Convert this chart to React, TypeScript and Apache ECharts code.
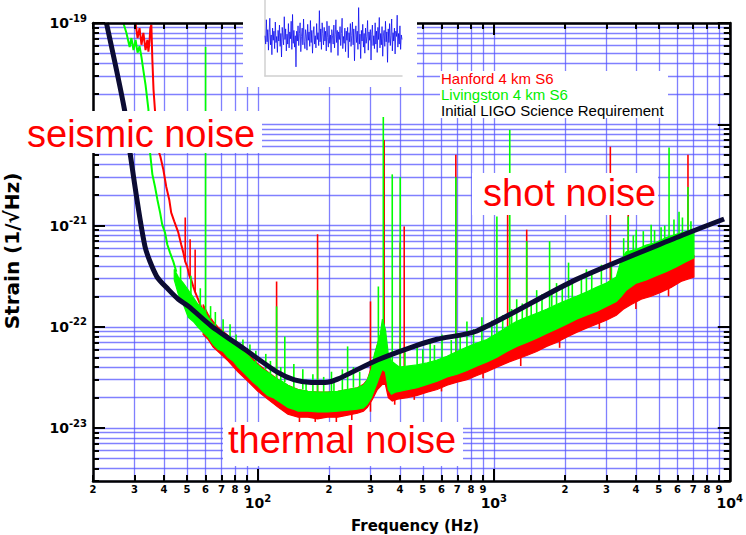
import React, { useEffect, useRef } from 'react';
import * as echarts from 'echarts';

// ---------- axes ----------
const xTickValues = [20, 30, 40, 50, 60, 70, 80, 90, 100, 200, 300, 400, 500, 600, 700, 800, 900, 1000, 2000, 3000, 4000, 5000, 6000, 7000, 8000, 9000, 10000];
const xDecadeValues = [100, 1000, 10000];
const xDigitValues = xTickValues.filter((v) => !xDecadeValues.includes(v));
const yMinorExponents = [-24, -23, -22, -21, -20];
const yDigits = [1, 2, 3, 4, 5, 6, 7, 8, 9];
const yDecadeValues = [1e-23, 1e-22, 1e-21, 1e-20, 1e-19];
// the 1e-20 label sits behind the "seismic noise" box in the reference
const yLabelValues = [1e-23, 1e-22, 1e-21, 1e-19];
const yTickValues: number[] = [];
yMinorExponents.forEach((e) => yDigits.forEach((d) => { const v = Number(`${d}e${e}`); if (v >= 3e-24) yTickValues.push(v); }));
yTickValues.push(1e-19);

// ---------- Initial LIGO Science Requirement ----------
const srdF = [22.8, 27.2, 28.7, 33.2, 37.2, 41.7, 46.0, 50.7, 63.4, 87.9, 121.4, 142.8, 167.9, 197.4, 217.6, 320.8, 443.6, 574, 847.6, 2240, 5916, 9462];
const srdV = [1e-19, 1.39e-20, 5.24e-21, 6.25e-22, 3.16e-22, 2.34e-22, 1.87e-22, 1.6e-22, 1.02e-22, 6.0e-23, 3.54e-23, 2.99e-23, 2.82e-23, 2.84e-23, 3.04e-23, 4.7e-23, 6.24e-23, 7.53e-23, 9.1e-23, 2.94e-22, 7.57e-22, 1.16e-21];

// ---------- Livingston 4 km S6 ----------
const livWallF = [26.9, 27.7, 28.6, 29.1, 29.7, 30.3, 30.9, 31.5, 32.1, 32.7, 33.4, 34.35, 34.8, 35.7, 36.65, 37.5, 38.5, 39.3, 40.4, 41.3, 42.4, 43.8, 45.1];
const livWallV = [1e-19, 8.0e-20, 5.8e-20, 7.1e-20, 5.4e-20, 6.8e-20, 5.1e-20, 5.9e-20, 4.6e-20, 3.4e-20, 2.45e-20, 1.4e-20, 5.6e-21, 3.2e-21, 2.4e-21, 1.8e-21, 1.34e-21, 1.02e-21, 8.5e-22, 6.5e-22, 5.4e-22, 4.4e-22, 3.5e-22];
const livF = [44.2, 46, 48.3, 50.7, 53.2, 55.8, 58.6, 61.5, 64.6, 67.8, 71.2, 74.7, 78.4, 82.3, 86.4, 90.7, 95.3, 100, 105, 110, 116, 122, 128, 134, 141, 148, 163, 179, 197, 218, 240, 264, 280, 291, 303, 312, 321, 330, 337, 347, 357, 368, 382, 397, 430, 473, 522, 575, 633, 698, 769, 848, 934, 1030, 1135, 1250, 1378, 1519, 1673, 1844, 2032, 2240, 2468, 2720, 2998, 3304, 3468, 3641, 4012, 4421, 4873, 5370, 5918, 6521, 7048];
const livHi = [3.7e-22, 3.1e-22, 2.7e-22, 2.3e-22, 1.95e-22, 1.66e-22, 1.49e-22, 1.24e-22, 1.06e-22, 9.5e-23, 8.4e-23, 7.9e-23, 7.2e-23, 6.4e-23, 5.7e-23, 5.2e-23, 4.6e-23, 4.2e-23, 3.8e-23, 3.56e-23, 3.25e-23, 3.0e-23, 2.84e-23, 2.65e-23, 2.5e-23, 2.4e-23, 2.3e-23, 2.26e-23, 2.26e-23, 2.3e-23, 2.4e-23, 2.5e-23, 2.65e-23, 3.0e-23, 3.8e-23, 5.4e-23, 6.7e-23, 8.4e-23, 1.19e-22, 9.5e-23, 5.4e-23, 4.6e-23, 4.3e-23, 4.0e-23, 4.1e-23, 4.2e-23, 4.4e-23, 4.7e-23, 5.1e-23, 5.7e-23, 6.3e-23, 6.9e-23, 7.5e-23, 8.6e-23, 9.9e-23, 1.13e-22, 1.24e-22, 1.36e-22, 1.49e-22, 1.66e-22, 1.83e-22, 2.0e-22, 2.2e-22, 2.45e-22, 2.7e-22, 3.1e-22, 4.6e-22, 5.5e-22, 5.8e-22, 6.4e-22, 6.8e-22, 7.6e-22, 8.2e-22, 8.7e-22, 9.1e-22];
const livLo = [2.9e-22, 2.1e-22, 1.66e-22, 1.24e-22, 1.13e-22, 9.9e-23, 8.8e-23, 7.9e-23, 6.7e-23, 6.0e-23, 5.7e-23, 5.0e-23, 4.6e-23, 4.0e-23, 3.6e-23, 3.2e-23, 2.84e-23, 2.6e-23, 2.3e-23, 2.1e-23, 2.0e-23, 1.85e-23, 1.72e-23, 1.6e-23, 1.54e-23, 1.47e-23, 1.47e-23, 1.44e-23, 1.44e-23, 1.47e-23, 1.5e-23, 1.54e-23, 1.58e-23, 1.72e-23, 2.0e-23, 2.4e-23, 2.84e-23, 3.4e-23, 3.8e-23, 3.6e-23, 2.4e-23, 2.16e-23, 2.26e-23, 2.3e-23, 2.4e-23, 2.5e-23, 2.7e-23, 2.9e-23, 3.2e-23, 3.4e-23, 3.7e-23, 4.1e-23, 4.5e-23, 5.0e-23, 5.7e-23, 6.4e-23, 7.0e-23, 7.7e-23, 8.6e-23, 9.5e-23, 1.06e-22, 1.19e-22, 1.30e-22, 1.42e-22, 1.59e-22, 1.78e-22, 2.0e-22, 2.3e-22, 2.7e-22, 2.9e-22, 3.2e-22, 3.5e-22, 3.9e-22, 4.4e-22, 4.8e-22];
// [frequency, floor, peak]
const livLines = [
  [60, 9.5e-23, 5.8e-20], [120, 3.0e-23, 1.59e-22], [130, 2.84e-23, 8.0e-23], [179, 2.26e-23, 2.3e-22], [240, 2.4e-23, 6.4e-23],
  [324, 4e-23, 2.5e-22], [340, 9.5e-23, 1.18e-20], [371, 4.3e-23, 3.2e-21], [401, 4.0e-23, 3.0e-21], [690, 5.7e-23, 3.0e-21],
  [1030, 8.6e-23, 1.23e-21], [1168, 1.0e-22, 8.8e-21], [1378, 1.24e-22, 7.0e-22], [1723, 1.5e-22, 7.0e-22], [2073, 1.9e-22, 4.3e-22],
  [3712, 5.5e-22, 1.23e-21], [5529, 7.6e-22, 5.9e-21], [6094, 8.2e-22, 1.37e-21], [6650, 8.7e-22, 2.4e-21],
  [71.2, 8.4e-23, 1.19e-22], [76.2, 7.9e-23, 1.06e-22], [80.8, 7.2e-23, 8.4e-23], [86.4, 5.7e-23, 7.5e-23], [92.5, 5.2e-23, 6.7e-23],
  [108, 3.8e-23, 5.4e-23], [142, 2.5e-23, 4.3e-23], [155, 2.4e-23, 3.8e-23], [171, 2.3e-23, 3.4e-23], [205, 2.26e-23, 3.6e-23],
  [228, 2.3e-23, 3.8e-23], [254, 2.5e-23, 4.0e-23], [473, 4.2e-23, 6.7e-23], [537, 4.4e-23, 7.5e-23], [603, 4.9e-23, 8.4e-23],
  [769, 6.3e-23, 1.13e-22], [890, 7.2e-23, 1.24e-22], [1250, 1.13e-22, 1.87e-22], [1519, 1.36e-22, 2.3e-22], [1844, 1.66e-22, 2.7e-22],
  [2468, 2.2e-22, 3.7e-22], [2856, 2.6e-22, 4.1e-22], [4012, 5.8e-22, 9.1e-22], [4642, 6.6e-22, 1.02e-21], [5115, 7.0e-22, 9.6e-22],
  [6846, 9.0e-22, 1.1e-21],
  [47, 2.9e-22, 4.0e-22], [52, 2.1e-22, 3.2e-22], [57, 1.6e-22, 2.4e-22], [63, 1.2e-22, 1.6e-22], [66, 1.0e-22, 1.4e-22],
  [98, 4.4e-23, 5.8e-23], [113, 3.4e-23, 4.6e-23], [125, 2.9e-23, 4.0e-23], [160, 2.3e-23, 3.0e-23], [190, 2.26e-23, 3.2e-23],
  [210, 2.3e-23, 3.1e-23], [270, 2.6e-23, 3.6e-23], [420, 4.1e-23, 5.6e-23], [500, 4.3e-23, 6.0e-23], [560, 4.6e-23, 6.6e-23],
  [660, 5.3e-23, 7.4e-23], [720, 5.9e-23, 8.2e-23], [820, 6.6e-23, 9.5e-23], [980, 8.0e-23, 1.15e-22], [1090, 9.3e-23, 1.3e-22],
  [1190, 1.05e-22, 1.5e-22], [1320, 1.18e-22, 1.7e-22], [1440, 1.3e-22, 1.8e-22], [1600, 1.42e-22, 2.1e-22], [1760, 1.58e-22, 2.3e-22],
  [1950, 1.75e-22, 2.5e-22], [2150, 1.9e-22, 2.8e-22], [2350, 2.1e-22, 3.0e-22], [2600, 2.35e-22, 3.4e-22], [3150, 2.9e-22, 4.2e-22],
  [3550, 5.0e-22, 7.5e-22], [3900, 5.6e-22, 8.0e-22], [4300, 6.2e-22, 8.8e-22], [4800, 6.7e-22, 9.0e-22], [5300, 7.4e-22, 1.0e-21],
  [5800, 8.0e-22, 1.15e-21], [6300, 8.5e-22, 1.2e-21],
];

// ---------- Hanford 4 km S6 ----------
const hanWallF = [30.3, 30.9, 31.5, 32.1, 32.7, 33.4, 34.0, 34.35, 34.7, 35.0, 35.35, 35.7, 36.1, 36.6, 37.1, 37.8, 38.6, 39.7, 40.9, 42.1, 42.9, 44.2, 46.0, 47.3, 48.3, 49.2, 50.2, 51.2, 52.2, 53.2, 54.2, 55.8, 58.0];
const hanWallV = [1e-19, 7.1e-20, 8.9e-20, 6.1e-20, 8.0e-20, 5.4e-20, 6.8e-20, 5.2e-20, 6.5e-20, 8.9e-20, 9.6e-20, 4.3e-20, 2.2e-20, 1.4e-20, 7.9e-21, 5.6e-21, 4.8e-21, 3.6e-21, 2.4e-21, 1.8e-21, 1.34e-21, 1.1e-21, 8.5e-22, 6.5e-22, 5.4e-22, 4.4e-22, 3.9e-22, 3.2e-22, 2.9e-22, 2.5e-22, 2.2e-22, 1.87e-22, 1.49e-22];
const hanF = [58.6, 61.5, 64.6, 67.8, 74.7, 82.3, 90.7, 100, 110, 122, 134, 148, 163, 179, 197, 218, 240, 264, 280, 291, 306, 321, 337, 347, 357, 371, 390, 430, 473, 522, 575, 633, 698, 769, 848, 934, 1030, 1135, 1250, 1378, 1519, 1673, 1844, 2032, 2240, 2468, 2720, 2998, 3304, 3536, 3822, 4212, 4642, 5115, 5637, 6212, 7048];
const hanHi = [1.66e-22, 1.33e-22, 1.13e-22, 9.9e-23, 8.2e-23, 6.7e-23, 5.4e-23, 4.3e-23, 3.6e-23, 3.0e-23, 2.65e-23, 2.4e-23, 2.3e-23, 2.26e-23, 2.26e-23, 2.3e-23, 2.4e-23, 2.5e-23, 2.7e-23, 3.0e-23, 4.3e-23, 6.7e-23, 9.5e-23, 7.5e-23, 4.8e-23, 3.8e-23, 3.6e-23, 3.6e-23, 3.7e-23, 3.9e-23, 4.2e-23, 4.5e-23, 4.9e-23, 5.2e-23, 5.7e-23, 6.3e-23, 6.9e-23, 7.5e-23, 8.4e-23, 9.2e-23, 1.0e-22, 1.13e-22, 1.24e-22, 1.36e-22, 1.49e-22, 1.59e-22, 1.74e-22, 1.9e-22, 2.1e-22, 2.5e-22, 2.6e-22, 2.9e-22, 3.2e-22, 3.5e-22, 3.9e-22, 4.4e-22, 5.0e-22];
const hanLo = [8.4e-23, 7.5e-23, 6.3e-23, 5.7e-23, 4.6e-23, 3.6e-23, 2.9e-23, 2.3e-23, 1.93e-23, 1.6e-23, 1.37e-23, 1.28e-23, 1.28e-23, 1.23e-23, 1.28e-23, 1.28e-23, 1.34e-23, 1.4e-23, 1.47e-23, 1.6e-23, 1.93e-23, 2.4e-23, 2.7e-23, 2.7e-23, 2.0e-23, 1.85e-23, 1.93e-23, 2.0e-23, 2.1e-23, 2.26e-23, 2.4e-23, 2.65e-23, 2.84e-23, 3.0e-23, 3.3e-23, 3.6e-23, 4.0e-23, 4.4e-23, 4.8e-23, 5.2e-23, 5.7e-23, 6.4e-23, 7.0e-23, 7.9e-23, 8.8e-23, 9.7e-23, 1.06e-22, 1.16e-22, 1.30e-22, 1.49e-22, 1.66e-22, 1.87e-22, 2.0e-22, 2.2e-22, 2.45e-22, 2.8e-22, 3.1e-22];
const hanLines = [
  [49.2, 4.4e-22, 1.2e-21], [51.6, 3.0e-22, 7.3e-22], [54.2, 2.2e-22, 5.8e-22], [120, 3.0e-23, 2.8e-22], [179, 2.26e-23, 8.2e-22],
  [300, 3.0e-23, 1.78e-22], [343, 7.5e-23, 7.0e-21], [401, 3.6e-23, 6.8e-22], [417, 3.6e-23, 9.8e-22], [690, 4.9e-23, 5.0e-21],
  [1144, 7.5e-23, 1.34e-21], [1378, 9.2e-23, 9.1e-22], [3117, 2.0e-22, 6.0e-21], [3712, 2.5e-22, 1.28e-21], [6650, 4.5e-22, 5.0e-21],
  [150, 1.6e-23, 1.1e-23], [175, 1.5e-23, 1.15e-23], [215, 1.5e-23, 1.12e-23], [250, 1.5e-23, 1.2e-23], [300, 2.0e-23, 1.45e-23],
  [380, 2.2e-23, 1.7e-23], [460, 2.4e-23, 1.9e-23], [600, 2.9e-23, 2.3e-23], [900, 3.9e-23, 3.1e-23], [1300, 5.0e-23, 4.1e-23],
  [1900, 7.6e-23, 6.2e-23], [2800, 1.15e-22, 9.5e-23], [4000, 1.8e-22, 1.5e-22], [5500, 2.4e-22, 2.0e-22],
];

// ---------- inset strain time series ----------
const insetValues = [
  0.3, -0.8, 2.4, -0.5, 1.1, -1.6, 0.7, 2.6, -0.9, 0.4, -2.2, 1.3, -0.3, 0.9, -1.4, 2.1, -0.6, 0.2, -1.9, 1.0,
  -0.4, 1.7, -1.1, 0.6, -2.5, 1.4, 0.1, -0.9, 2.8, -0.2, 1.2, -1.7, 0.5, -0.8, 1.9, -1.3, 0.8, -0.1, 2.2, -1.5,
  3.1, -0.7, 1.0, -1.2, 0.3, -3.8, 0.9, -0.4, 1.6, -1.0, 0.6, 2.0, -1.8, 0.2, 1.3, -0.9, 2.5, -0.5, -1.4, 1.1,
  0.4, -1.6, 1.8, -0.3, 0.8, -1.1, 2.3, -0.6, 1.0, -2.0, 0.5, 1.5, -0.8, 0.3, -1.3, 1.9, -0.2, 0.7, -1.0, 3.6,
  -0.5, 1.2, -1.5, 2.0, 0.6, -0.9, 1.4, -0.4, 0.9, -1.7, 2.2, 0.1, -1.2, 1.6, -0.7, 0.4, -1.9, 1.1, 0.3, -0.8,
  1.7, -1.3, 0.5, 2.4, -0.6, 1.0, -2.3, 0.8, -0.2, 1.5, -1.0, 0.6, 2.6, -1.4, 0.2, -0.7, 1.3, -1.8, 0.9, -0.3,
  1.4, -2.6, 0.7, -0.5, 1.9, -1.1, 0.3, 2.1, -0.9, 1.2, -3.0, 0.4, 1.6, -0.6, 0.9, -1.5, 4.0, -0.8, 0.5, -2.7,
  1.0, -0.4, 1.8, -1.2, 0.6, -2.0, 1.3, -0.7, 0.2, 2.3, -1.6, 0.8, -0.3, 1.1, -2.9, 0.5, 1.7, -1.0, 0.3, -1.4,
  2.0, -0.8, 0.9, -1.9, 1.4, -0.2, 2.7, -1.3, 0.6, -0.9, 1.5, -2.4, 0.4, 1.0, -1.1, 2.2, -0.5, 0.8, -3.2, 1.2,
  -0.6, 1.9, -1.0, 0.3, 2.5, -1.7, 0.7, -0.4, 1.3, -2.1, 0.9, 0.2, 3.0, -1.2, 0.6, -0.8, 1.6, -1.5, 0.4, -0.2,
];

const RED = '#ff0000';
const GREEN = '#00ff00';
const NAVY = '#0c0c33';
const GRID_BLUE = 'rgba(85,85,255,0.75)';
const TICK_FONT = 'DejaVu Sans';
const SANS = '"Liberation Sans", Arial, sans-serif';

const digitFmt = (v: number) => {
  const e = Math.floor(Math.log10(v) + 1e-9);
  return String(Math.round(v / Math.pow(10, e)));
};
const powFmt = (v: number) => `{a|10}{b|${Math.round(Math.log10(v))}}`;
const powRich = {
  a: { fontSize: 14, fontWeight: 'bold', fontFamily: TICK_FONT, color: '#000', lineHeight: 20 },
  b: { fontSize: 10, fontWeight: 'bold', fontFamily: TICK_FONT, color: '#000', verticalAlign: 'top', lineHeight: 10 },
};

function bandSeries(name: string, f: number[], hi: number[], lo: number[], color: string, z: number) {
  return {
    type: 'custom', name, xAxisIndex: 0, yAxisIndex: 0, z, clip: true, silent: true,
    data: f.map((x, i) => [x, hi[i], lo[i]]),
    encode: { x: 0, y: [1, 2] },
    renderItem: (params: any, api: any) => {
      if (params.dataIndex !== 0) return null;
      const pts = f.map((x, i) => api.coord([x, hi[i]]));
      for (let i = f.length - 1; i >= 0; i--) pts.push(api.coord([f[i], lo[i]]));
      return { type: 'polygon', shape: { points: pts }, style: { fill: color, stroke: color, lineWidth: 1.2 } };
    },
  };
}
function linesSeries(name: string, data: number[][], color: string, z: number) {
  return {
    type: 'custom', name, xAxisIndex: 0, yAxisIndex: 0, z, clip: true, silent: true,
    data, encode: { x: 0, y: [1, 2] },
    renderItem: (_p: any, api: any) => {
      const a = api.coord([api.value(0), api.value(1)]);
      const b = api.coord([api.value(0), api.value(2)]);
      return { type: 'line', shape: { x1: a[0], y1: a[1], x2: b[0], y2: b[1] }, style: { stroke: color, lineWidth: 1.6 } };
    },
  };
}
function wallSeries(name: string, f: number[], v: number[], color: string, z: number) {
  return {
    type: 'line', name, xAxisIndex: 0, yAxisIndex: 0, z, showSymbol: false, symbol: 'none', silent: true,
    data: f.map((x, i) => [x, v[i]]), lineStyle: { color, width: 2 },
  };
}

const frameX = (position: string, values: number[], length: number, line: boolean) => ({
  type: 'log', gridIndex: 0, position, min: 20, max: 10000, z: 10,
  axisLine: { show: line, onZero: false, lineStyle: { color: '#000', width: 2.5 } },
  axisTick: { show: true, inside: true, length, customValues: values, lineStyle: { color: '#000', width: 2 } },
  axisLabel: { show: false }, splitLine: { show: false }, minorTick: { show: false }, minorSplitLine: { show: false },
});
const frameY = (position: string, values: number[], length: number, line: boolean) => ({
  type: 'log', gridIndex: 0, position, min: 3e-24, max: 1e-19, z: 10,
  axisLine: { show: line, onZero: false, lineStyle: { color: '#000', width: 2.5 } },
  axisTick: { show: true, inside: true, length, customValues: values, lineStyle: { color: '#000', width: 2 } },
  axisLabel: { show: false }, splitLine: { show: false }, minorTick: { show: false }, minorSplitLine: { show: false },
});

function buildOption() {
  const xAxis: any[] = [
    { ...frameX('bottom', xTickValues, 0, false), z: 0, axisTick: { show: false, customValues: xTickValues }, splitLine: { show: true, lineStyle: { color: GRID_BLUE, width: 1.3 } } },
    { ...frameX('bottom', xTickValues, 6, true), axisLabel: { show: true, customValues: xDigitValues, margin: 3, formatter: digitFmt, color: '#000', fontFamily: TICK_FONT, fontWeight: 'bold', fontSize: 10, showMinLabel: true, showMaxLabel: true } },
    { ...frameX('bottom', xDecadeValues, 12, false), axisLabel: { show: true, customValues: xDecadeValues, margin: 12, formatter: powFmt, rich: powRich, showMinLabel: true, showMaxLabel: true } },
    frameX('top', xTickValues, 6, true),
    frameX('top', xDecadeValues, 12, false),
    { type: 'value', gridIndex: 1, min: 0, max: insetValues.length - 1, z: 60, axisLine: { show: true, onZero: false, lineStyle: { color: '#d0d0d0', width: 1.5 } }, axisTick: { show: false }, axisLabel: { show: false }, splitLine: { show: false } },
  ];
  const yAxis: any[] = [
    { ...frameY('left', yTickValues, 0, false), z: 0, axisTick: { show: false, customValues: yTickValues }, splitLine: { show: true, lineStyle: { color: GRID_BLUE, width: 1.3 } } },
    frameY('left', yTickValues, 6, true),
    { ...frameY('left', yDecadeValues, 12, false), axisLabel: { show: true, customValues: yLabelValues, margin: 6, formatter: powFmt, rich: powRich, showMinLabel: true, showMaxLabel: true } },
    frameY('right', yTickValues, 6, true),
    frameY('right', yDecadeValues, 12, false),
    { type: 'value', gridIndex: 1, min: -5, max: 5, z: 60, axisLine: { show: true, onZero: false, lineStyle: { color: '#d0d0d0', width: 1.5 } }, axisTick: { show: false }, axisLabel: { show: false }, splitLine: { show: false } },
  ];

  const box = (x: number, y: number, width: number, height: number) => ({ type: 'rect', z: 50, silent: true, shape: { x, y, width, height }, style: { fill: '#fff' } });
  const label = (text: string, x: number, y: number, fill: string, fontSize: number, fontWeight = 'normal', fontFamily = SANS, align = 'left', rotation = 0) => ({
    type: 'text', z: 51, silent: true, x, y, rotation,
    style: { text, fill, fontSize, fontWeight, fontFamily, align, verticalAlign: 'middle', textAlign: align, textVerticalAlign: 'middle' },
  });

  return {
    animation: false,
    backgroundColor: '#fff',
    grid: [
      { left: 93, right: 12, top: 23, bottom: 54, containLabel: false },
      { left: 265, top: 0, width: 137, height: 76, containLabel: false },
    ],
    xAxis, yAxis,
    series: [
      bandSeries('Hanford floor', hanF, hanHi, hanLo, RED, 3),
      linesSeries('Hanford lines', hanLines, RED, 3),
      wallSeries('Hanford 4 km S6', hanWallF, hanWallV, RED, 3),
      bandSeries('Livingston floor', livF, livHi, livLo, GREEN, 4),
      linesSeries('Livingston lines', livLines, GREEN, 4),
      wallSeries('Livingston 4 km S6', livWallF, livWallV, GREEN, 4),
      {
        type: 'line', name: 'Initial LIGO Science Requirement', xAxisIndex: 0, yAxisIndex: 0, z: 5, smooth: 0.25,
        showSymbol: false, symbol: 'none', silent: true,
        data: srdF.map((f, i) => [f, srdV[i]]), lineStyle: { color: NAVY, width: 5 },
      },
      {
        type: 'line', name: 'strain', xAxisIndex: 5, yAxisIndex: 5, z: 60, showSymbol: false, symbol: 'none', silent: true,
        data: insetValues.map((v, i) => [i, v]), lineStyle: { color: '#0000ee', width: 0.8, opacity: 0.9 },
      },
    ],
    graphic: { elements: [
      box(20, 111, 242, 42),
      box(472, 173, 186, 42),
      box(223, 422, 240, 44),
      box(440, 71, 228, 47),
      box(243, 0, 174, 87),
      label('seismic noise', 27, 134, RED, 38),
      label('shot noise', 483, 193, RED, 38),
      label('thermal noise', 228, 440, RED, 38),
      label('Hanford 4 km S6', 441, 78.5, RED, 15),
      label('Livingston 4 km S6', 441, 94.3, '#00ee00', 15),
      label('Initial LIGO Science Requirement', 441, 110, '#000', 15),
      label('Frequency (Hz)', 415, 526, '#000', 15, 'bold', TICK_FONT, 'center'),
      label('Strain (1/\u221AHz)', 12, 251, '#000', 20, 'bold', TICK_FONT, 'center', Math.PI / 2),
    ] },
  };
}

export default function App() {
  const ref = useRef<HTMLDivElement>(null);
  useEffect(() => {
    if (!ref.current) return;
    const chart = echarts.init(ref.current, undefined, { renderer: 'svg' });
    chart.setOption(buildOption() as any);
    return () => chart.dispose();
  }, []);
  return <div ref={ref} style={{ position: 'fixed', left: 0, top: 0, width: 746, height: 535 }} />;
}
